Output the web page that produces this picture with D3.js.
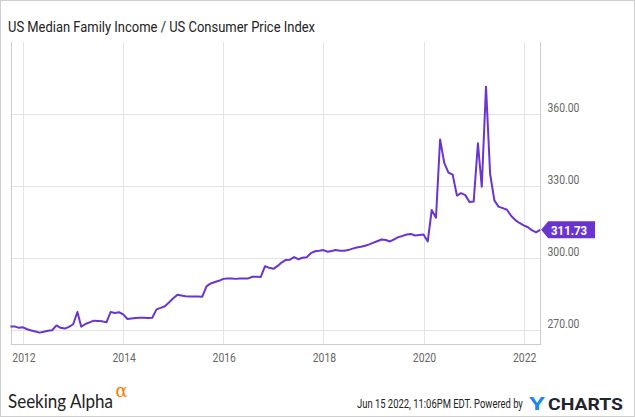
<!DOCTYPE html>
<html><head><meta charset="utf-8">
<script src="https://cdn.jsdelivr.net/npm/d3@7/dist/d3.min.js"></script>
<style>
html,body{margin:0;padding:0;background:#fff;}
svg{display:block;}
</style></head>
<body>
<script>
// ---- data (monthly, Oct 2011 .. May 2022) ----
const startMonth = [2011, 9]; // Oct 2011 (JS month index)
const values = [
271.5,271.5,270.9,271.1,270.3,269.8,269.4,268.9,269.3,269.7,269.9,271.9,
270.9,270.6,271.3,272.4,277.5,271.4,272.5,273.2,273.9,273.8,273.6,273.2,
277.5,277.1,277.4,276.5,274.6,274.8,275.0,275.1,275.1,275.0,275.1,278.6,
279.2,279.9,281.5,283.2,284.7,284.4,284.1,284.0,284.0,284.0,283.9,288.2,
289.4,290.0,290.5,291.3,291.5,291.5,291.3,291.5,291.5,291.5,292.2,292.2,
292.1,296.6,295.9,295.5,296.7,298.1,299.2,299.3,300.4,299.5,300.1,300.3,
302.0,302.8,303.0,303.3,302.6,302.9,303.3,303.0,303.0,303.3,303.9,304.4,
304.7,305.1,305.7,306.4,307.1,307.7,307.5,306.9,307.8,308.7,309.2,309.8,
310.0,309.4,309.6,309.8,306.9,320.0,316.8,349.4,339.5,335.6,334.7,326.0,
327.0,326.2,323.3,323.5,347.8,329.7,371.4,335.0,324.0,321.4,320.8,320.1,
317.6,315.8,314.6,313.6,312.8,311.6,310.7,311.73
];
const xTickYears = [2012, 2014, 2016, 2018, 2020, 2022];
const yTicks = [270, 300, 330, 360];
const title = "US Median Family Income / US Consumer Price Index";
const lastLabel = "311.73";
const footerDate = "Jun 15 2022, 11:06PM EDT.";

const data = values.map((v, i) => ({date: new Date(startMonth[0], startMonth[1] + i, 1), value: v}));

const W = 635, H = 417;
const plot = {left: 11, right: 540.7, top: 42, bottom: 344};
const purple = "#6a34d1";

const svg = d3.select("body").append("svg").attr("width", W).attr("height", H);

// outer border
svg.append("rect").attr("x", 0.5).attr("y", 0.5).attr("width", W - 1).attr("height", H - 1)
  .attr("fill", "#fff").attr("stroke", "#cfcfcf");

const x = d3.scaleTime()
  .domain([new Date(2012, 0, 1), new Date(2022, 0, 1)])
  .range([23, 523.7]);
const y = d3.scaleLinear().domain([270, 360]).range([330, 114]);

function fitWidth(sel, w) {
  sel.attr("textLength", w).attr("lengthAdjust", "spacingAndGlyphs");
}
function squeeze(sel, f) {
  sel.each(function () {
    const w = this.getComputedTextLength();
    d3.select(this).attr("textLength", w * f).attr("lengthAdjust", "spacingAndGlyphs");
  });
}
// text placed at (px,py) and horizontally scaled to width w via transform
function scaledText(str, px, py, w, attrs) {
  const gg = svg.append("g");
  const t = gg.append("text").attr("x", 0).attr("y", 0);
  for (const k in attrs) t.attr(k, attrs[k]);
  t.text(str);
  const nat = t.node().getComputedTextLength();
  gg.attr("transform", `translate(${px},${py}) scale(${w / nat},1)`);
  return t;
}

// title
svg.append("text").attr("x", 8).attr("y", 32)
  .attr("font-family", "Roboto").attr("font-size", 15.5).attr("fill", "#222")
  .text(title).call(fitWidth, 307);

// grid
const g = svg.append("g");
g.selectAll(".hg").data(yTicks).join("line")
  .attr("x1", plot.left).attr("x2", plot.right)
  .attr("y1", d => Math.round(y(d)) + 0.5).attr("y2", d => Math.round(y(d)) + 0.5)
  .attr("stroke", "#e3e3e3");
g.selectAll(".vg").data(xTickYears).join("line")
  .attr("x1", d => Math.round(x(new Date(d, 0, 1))) + 0.5).attr("x2", d => Math.round(x(new Date(d, 0, 1))) + 0.5)
  .attr("y1", plot.top).attr("y2", plot.bottom)
  .attr("stroke", "#e3e3e3");

// frame lines (left, right, bottom)
g.append("line").attr("x1", plot.left + 0.5).attr("x2", plot.left + 0.5).attr("y1", plot.top).attr("y2", plot.bottom + 0.5).attr("stroke", "#cccccc");
g.append("line").attr("x1", 540.5).attr("x2", 540.5).attr("y1", plot.top).attr("y2", plot.bottom + 0.5).attr("stroke", "#cccccc");
g.append("line").attr("x1", plot.left).attr("x2", 541).attr("y1", plot.bottom + 0.5).attr("y2", plot.bottom + 0.5).attr("stroke", "#cccccc");

// x tick labels
svg.selectAll(".xl").data(xTickYears).join("text")
  .attr("x", d => x(new Date(d, 0, 1)) + 1).attr("y", 361.5)
  .attr("text-anchor", "middle")
  .attr("font-family", "Roboto").attr("font-size", 13).attr("fill", "#666")
  .text(d => String(d)).call(squeeze, 0.8);

// y tick labels
svg.selectAll(".yl").data(yTicks).join("text")
  .attr("x", 547.5).attr("y", d => y(d) - 2)
  .attr("font-family", "Roboto").attr("font-size", 13).attr("fill", "#666")
  .text(d => d3.format(".2f")(d)).call(squeeze, 0.8);

// line
const line = d3.line().x(d => x(d.date)).y(d => y(d.value));
svg.append("path").datum(data).attr("d", line)
  .attr("fill", "none").attr("stroke", purple).attr("stroke-width", 2)
  .attr("stroke-linejoin", "round");

// last value label
const last = data[data.length - 1];
const ly = y(last.value);
const lx = x(last.date) + 1;
svg.append("path")
  .attr("d", `M${lx},${ly} L${lx + 7},${ly - 8.5} L${595},${ly - 8.5} L${595},${ly + 8.5} L${lx + 7},${ly + 8.5} Z`)
  .attr("fill", purple);
svg.append("text").attr("x", 551).attr("y", ly + 4.7)
  .attr("font-family", "Roboto").attr("font-size", 13).attr("font-weight", "bold").attr("fill", "#fff")
  .text(lastLabel).call(squeeze, 0.88);

// footer: Seeking Alpha
scaledText("Seeking Alpha", 8, 408, 105, {"font-family": "Lato", "font-size": 20, "fill": "#222"});
scaledText("α", 115.5, 396.5, 12, {"font-family": "DejaVu Serif", "font-size": 19, "fill": "#ff7a00"});

// footer: date, powered by, YCHARTS
scaledText(footerDate + " Powered by", 357, 407.5, 166, {"font-family": "Roboto", "font-size": 12, "fill": "#222"});
scaledText("Y", 529, 409.5, 16, {"font-family": "Roboto", "font-size": 18, "font-weight": "bold", "fill": "#1e88e5"});
scaledText("CHARTS", 548, 409.5, 75, {"font-family": "Roboto", "font-size": 17, "font-weight": "bold", "fill": "#1f2430"});
</script>
</body></html>
